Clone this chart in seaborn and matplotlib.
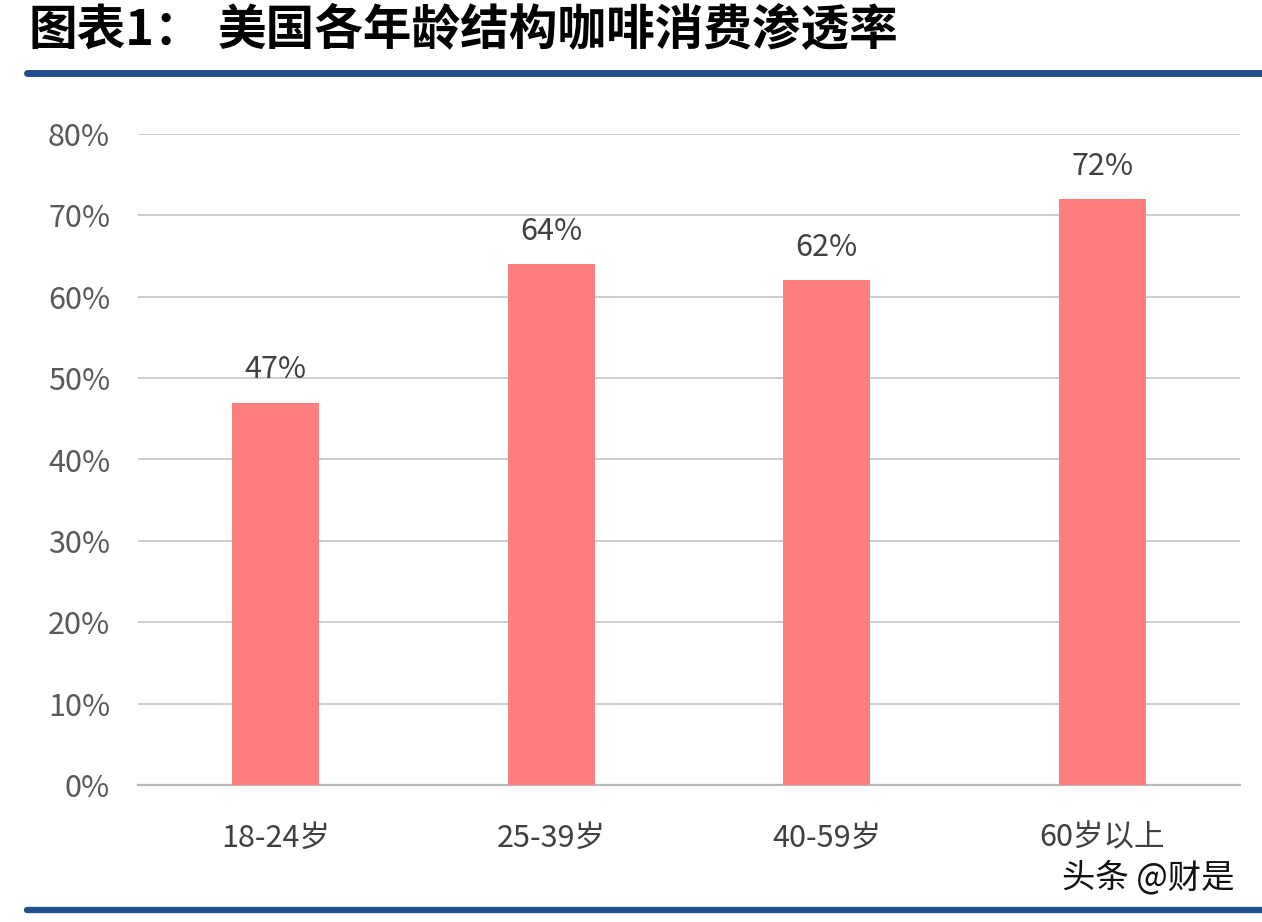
import matplotlib
matplotlib.use("Agg")
import pandas as pd
import seaborn as sns
import matplotlib.pyplot as plt
from matplotlib.lines import Line2D
from matplotlib.ticker import FuncFormatter

age_groups = ["18-24岁", "25-39岁", "40-59岁", "60岁以上"]
penetration = [47, 64, 62, 72]
y_ticks = [0, 10, 20, 30, 40, 50, 60, 70, 80]

df = pd.DataFrame({"age": age_groups, "rate": penetration})

sns.set_style("white")
plt.rcParams['font.family'] = ['Noto Sans CJK SC', 'DejaVu Sans']

fig = plt.figure(figsize=(12.62, 9.22), dpi=100)
ax = fig.add_axes([138 / 1262, 1 - 785 / 922, (1240 - 138) / 1262, (785 - 134) / 922])

sns.barplot(data=df, x="age", y="rate", color="#FF7F7E", saturation=1, width=0.315,
            linewidth=0, ax=ax, zorder=3)

ax.set_ylim(0, 80)
ax.set_xlim(-0.5, 3.5)
ax.set_yticks(y_ticks)
ax.yaxis.set_major_formatter(FuncFormatter(lambda v, p: f"{v:.0f}%"))
ax.grid(axis="y", color="#C9C9C9", linewidth=1.3, zorder=0)
ax.set_xlabel("")
ax.set_ylabel("")
for s in ["top", "right", "left"]:
    ax.spines[s].set_visible(False)
ax.spines["bottom"].set_color("#B8B8B8")
ax.spines["bottom"].set_linewidth(1.6)
ax.tick_params(axis="y", length=0, pad=20, labelsize=22, labelcolor="#595959")
ax.tick_params(axis="x", length=0, pad=27, labelsize=22, labelcolor="#404040")

for i, v in enumerate(penetration):
    ax.text(i, v + 4.0, f"{v}%", ha="center", va="center", fontsize=22, color="#404040")

fig.text(28 / 1262, 1 - 30 / 922, "图表1：", fontsize=35, fontweight="heavy", va="center", ha="left", color="black")
fig.text(218 / 1262, 1 - 30 / 922, "美国各年龄结构咖啡消费渗透率", fontsize=35, fontweight="heavy", va="center", ha="left", color="black")

fig.add_artist(Line2D([27 / 1262, 1], [1 - 73 / 922, 1 - 73 / 922], color="#1F4F8E", linewidth=5, transform=fig.transFigure))
fig.add_artist(Line2D([27 / 1262, 1], [1 - 910 / 922, 1 - 910 / 922], color="#1F4F8E", linewidth=4.5, transform=fig.transFigure))

fig.text(1235 / 1262, 1 - 878 / 922, "头条 @财是", fontsize=24, ha="right", va="center", color="#111111")

fig.savefig("out.png", dpi=100)
